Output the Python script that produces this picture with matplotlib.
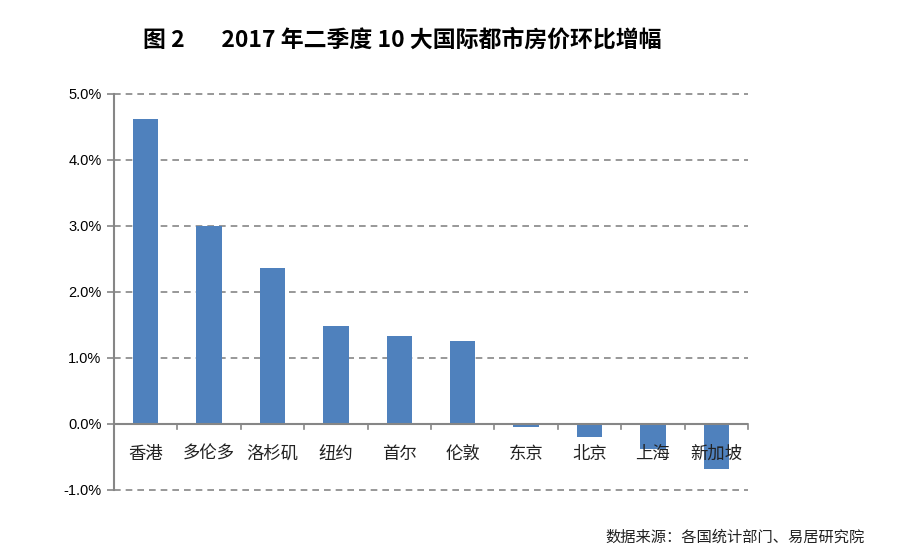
import matplotlib.pyplot as plt
import numpy as np
from matplotlib.ticker import FuncFormatter

plt.rcParams['font.family'] = ['Noto Sans CJK SC', 'DejaVu Sans']

cities = ["香港", "多伦多", "洛杉矶", "纽约", "首尔", "伦敦", "东京", "北京", "上海", "新加坡"]
growth = [4.62, 3.0, 2.37, 1.49, 1.33, 1.26, -0.04, -0.2, -0.38, -0.68]
y_ticks = [-1, 0, 1, 2, 3, 4, 5]

bar_color = "#4f81bd"
axis_gray = "#868686"

fig = plt.figure(figsize=(9.07, 5.57), dpi=100)
ax = fig.add_axes([0.1257, 0.1203, 0.699, 0.711])

x = np.arange(len(cities))
ax.bar(x, growth, width=0.4, color=bar_color, zorder=3)

ax.set_xlim(-0.5, len(cities) - 0.5)
ax.set_ylim(-1, 5)
ax.set_yticks(y_ticks)
ax.yaxis.set_major_formatter(FuncFormatter(lambda v, _: f"{v:.1f}%"))
for t in y_ticks:
    if t != 0:
        ax.axhline(t, color=axis_gray, lw=1.2, ls=(0, (4, 3)), zorder=1, clip_on=False)
ax.axhline(0, color=axis_gray, lw=1.5, zorder=4)

# tick marks on the zero line at category boundaries
for b in np.arange(0.5, len(cities), 1.0):
    ax.plot([b, b], [0, -0.07], color=axis_gray, lw=1.2, zorder=4, clip_on=False)

for s in ["top", "right", "bottom"]:
    ax.spines[s].set_visible(False)
ax.spines["left"].set_color(axis_gray)
ax.spines["left"].set_linewidth(1.5)

ax.tick_params(axis="y", length=5, color=axis_gray, width=1.2, labelsize=10.5, pad=4)
for lbl in ax.get_yticklabels():
    lbl.set_fontfamily(["Liberation Sans", "DejaVu Sans"])
ax.set_xticks([])

for xi, name in zip(x, cities):
    ax.text(xi, -0.45, name, ha="center", va="center", fontsize=12.5, color="#222222", zorder=5)

fig.text(0.444, 0.928, "图 2       2017 年二季度 10 大国际都市房价环比增幅",
         ha="center", va="center", fontsize=16.5, fontweight="bold")
fig.text(0.953, 0.035, "数据来源：各国统计部门、易居研究院",
         ha="right", va="center", fontsize=11, color="#222222")

fig.savefig("out.png", dpi=100)
